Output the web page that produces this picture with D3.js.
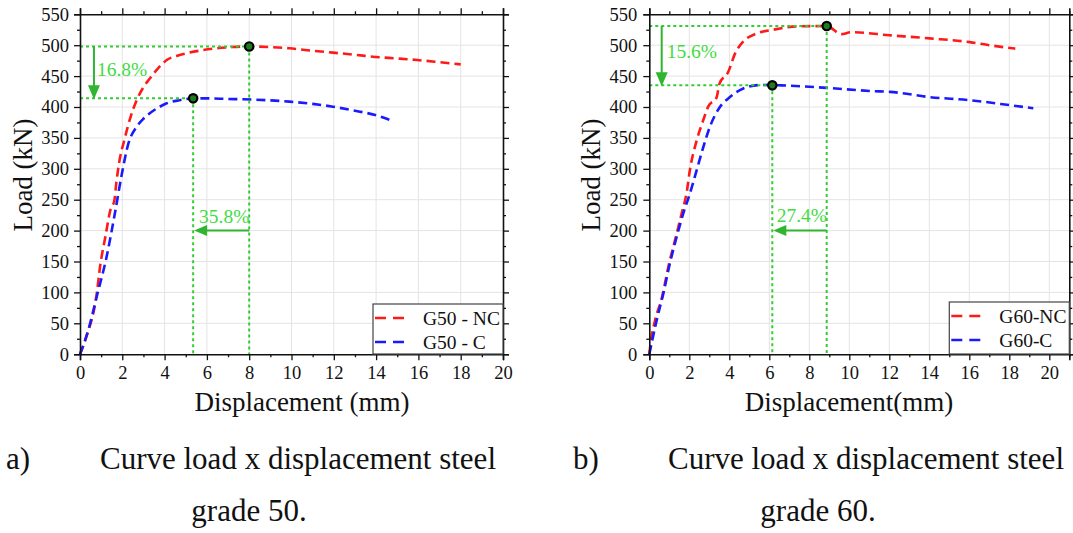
<!DOCTYPE html>
<html><head><meta charset="utf-8">
<script src="https://cdn.jsdelivr.net/npm/d3@7"></script>
<style>
body{margin:0;background:#fff}
text{font-family:"Liberation Serif","Times New Roman",serif;fill:#111}
</style>
</head><body>
<svg id="c" width="1073" height="533"></svg>
<script>
// ---------- data ----------
const xTicks = [0, 2, 4, 6, 8, 10, 12, 14, 16, 18, 20];
const yTicks = [0, 50, 100, 150, 200, 250, 300, 350, 400, 450, 500, 550];

const G50_NC = [[0,0],[0.3,28],[0.8,100],[0.95,142],[1.2,190],[1.45,235],[1.62,248],[1.72,278],[1.85,310],[2.1,347],[2.4,385],[2.68,411],[3.0,432],[3.3,446],[3.7,463],[4.1,476],[4.6,483],[5.04,487],[5.8,492],[6.46,495],[7.2,497],[8.0,498],[9.0,497],[9.9,495],[11,491],[11.96,488],[13,484.5],[13.96,481],[15,478.5],[15.94,476],[17,472.5],[18,469]];
const G50_C = [[0,0],[0.4,40],[0.79,93],[1.26,158],[1.65,228],[1.97,290],[2.28,340],[2.68,368],[3.0,381],[3.3,390],[3.7,399],[4.1,406],[4.7,411],[5.35,414],[6.0,414],[7.0,413],[7.7,412.5],[8.8,411],[9.9,408.7],[11,405],[11.96,400.5],[13,394],[13.96,387],[14.8,377]];
const G60_NC = [[0,0],[0.05,14],[0.29,55],[0.62,90],[0.95,141],[1.37,195],[1.62,228],[1.87,262],[2.03,298],[2.37,346],[2.7,379],[2.95,401],[3.37,416],[3.5,437],[3.95,457],[4.28,486],[4.7,506],[5.37,519],[6.2,525],[7.37,530.5],[8.87,531],[9.6,518],[10.1,521],[12.03,516],[14.03,511],[16.03,505],[17.0,500],[18.3,494.5]];
const G60_C = [[0,0],[0.37,55],[0.7,98],[1.03,147],[1.37,190],[1.7,228],[2.03,260],[2.37,298],[2.7,335],[3.03,368],[3.53,400],[4.03,416],[4.7,430],[5.53,435.5],[6.15,435.5],[6.6,435],[8.87,431],[11.2,425.6],[12.03,424.5],[14.03,416],[16.03,411],[18.03,403],[19.2,398]];

const peaks50 = [[8.0,498],[5.35,414]];
const peaks60 = [[8.87,531],[6.15,435]];
const pct50 = ["16.8%", "35.8%"];
const pct60 = ["15.6%", "27.4%"];
const legend50 = ["G50 - NC", "G50 - C"];
const legend60 = ["G60-NC", "G60-C"];
const xLabels = ["Displacement (mm)", "Displacement(mm)"];
const yLabel = "Load (kN)";
const captions = [
  {tag:"a)", line1:"Curve load x displacement steel", line2:"grade 50."},
  {tag:"b)", line1:"Curve load x displacement steel", line2:"grade 60."}
];

// ---------- layout ----------
const FONT = '"Liberation Serif","Times New Roman",serif';
const svg = d3.select("#c");
svg.append("rect").attr("width",1073).attr("height",533).attr("fill","#fff");

const panels = [
  {px0:80, px1:503, xMax:20, series:[G50_NC,G50_C], peaks:peaks50, pct:pct50, legend:legend50,
   xLabel:xLabels[0], xLabelX:302, yLabelX:23, arrowX:0.66, pctPos:[[0.8,450],[5.63,212]],
   leg:{x:373, y:304, w:130, h:50}, yPad:5},
  {px0:649.3, px1:1069.3, xMax:21, series:[G60_NC,G60_C], peaks:peaks60, pct:pct60, legend:legend60,
   xLabel:xLabels[1], xLabelX:849, yLabelX:591, arrowX:0.62, pctPos:[[0.87,479],[6.37,214]],
   leg:{x:949.3, y:302, w:120, h:52}, yPad:6}
];
const yTop = 14.3, yBot = 354.2;
const colors = ["#ff1a1a", "#1a1aff"];
const green = "#33cc33", greenArrow = "#2fb52f", greenText = "#3fdc3f";

panels.forEach(p => {
  const x = d3.scaleLinear().domain([0, p.xMax]).range([p.px0, p.px1]);
  const y = d3.scaleLinear().domain([0, 550]).range([yBot, yTop]);
  const g = svg.append("g");

  // grid
  g.selectAll(".gx").data(xTicks.filter(t => t > 0 && t < p.xMax)).enter().append("line")
    .attr("x1", d => x(d)).attr("x2", d => x(d)).attr("y1", yTop).attr("y2", yBot)
    .attr("stroke", "#e4e4e4").attr("stroke-width", 1);
  g.selectAll(".gy").data(yTicks.filter(t => t > 0 && t < 550)).enter().append("line")
    .attr("y1", d => y(d)).attr("y2", d => y(d)).attr("x1", p.px0).attr("x2", p.px1)
    .attr("stroke", "#e4e4e4").attr("stroke-width", 1);

  // curves
  const line = d3.line().x(d => x(d[0])).y(d => y(d[1])).curve(d3.curveMonotoneX);
  p.series.forEach((s, i) => {
    g.append("path").attr("d", line(s)).attr("fill", "none")
      .attr("stroke", colors[i]).attr("stroke-width", 2.6).attr("stroke-dasharray", "9,5");
  });

  // dotted guide lines
  p.peaks.forEach(pk => {
    g.append("line").attr("x1", x(0)).attr("x2", x(pk[0])).attr("y1", y(pk[1])).attr("y2", y(pk[1]))
      .attr("stroke", green).attr("stroke-width", 2).attr("stroke-dasharray", "3,3");
    g.append("line").attr("x1", x(pk[0])).attr("x2", x(pk[0])).attr("y1", y(pk[1])).attr("y2", y(0))
      .attr("stroke", green).attr("stroke-width", 2).attr("stroke-dasharray", "3,3");
  });

  // vertical arrow (load reduction)
  const ax = x(p.arrowX), ay1 = y(p.peaks[0][1]), ay2 = y(p.peaks[1][1]);
  g.append("line").attr("x1", ax).attr("x2", ax).attr("y1", ay1).attr("y2", ay2 - 10)
    .attr("stroke", greenArrow).attr("stroke-width", 2);
  g.append("path").attr("d", `M${ax-6},${ay2-13}L${ax+6},${ay2-13}L${ax},${ay2+1}Z`).attr("fill", greenArrow);
  // horizontal arrow (displacement reduction)
  const hy = y(200), hx1 = x(p.peaks[0][0]), hx2 = x(p.peaks[1][0]);
  g.append("line").attr("x1", hx1).attr("x2", hx2 + 10).attr("y1", hy).attr("y2", hy)
    .attr("stroke", greenArrow).attr("stroke-width", 2);
  g.append("path").attr("d", `M${hx2+14},${hy-5.5}L${hx2+14},${hy+5.5}L${hx2+1},${hy}Z`).attr("fill", greenArrow);

  p.pct.forEach((t, i) => {
    g.append("text").attr("x", x(p.pctPos[i][0])).attr("y", y(p.pctPos[i][1]))
      .attr("font-size", 19.5).style("fill", greenText).text(t);
  });

  // peak markers
  p.peaks.forEach(pk => {
    g.append("circle").attr("cx", x(pk[0])).attr("cy", y(pk[1])).attr("r", 4.2)
      .attr("fill", "#1e7a1e").attr("stroke", "#000").attr("stroke-width", 2.2);
  });

  // axes
  const xMinor = d3.range(1, p.xMax + 0.01, 2);
  const yMinor = d3.range(25, 550, 50);
  const axB = d3.axisBottom(x).tickValues(xTicks).tickSize(6).tickPadding(6).tickFormat(d3.format("d"));
  const axT = d3.axisTop(x).tickValues(xTicks).tickSize(6).tickFormat("");
  const axL = d3.axisLeft(y).tickValues(yTicks).tickSize(6).tickPadding(p.yPad).tickFormat(d3.format("d"));
  const axR = d3.axisRight(y).tickValues(yTicks).tickSize(6).tickFormat("");
  const style = sel => {
    sel.attr("font-family", null);
    sel.selectAll("path").attr("stroke", "#111").attr("stroke-width", 1.6);
    sel.selectAll("line").attr("stroke", "#111").attr("stroke-width", 1.3);
    sel.selectAll("text").attr("font-size", 18.5).style("fill", "#111");
  };
  g.append("g").attr("transform", `translate(0,${yBot})`).call(axB).call(style);
  g.append("g").attr("transform", `translate(0,${yTop})`).call(axT).call(style);
  g.append("g").attr("transform", `translate(${p.px0},0)`).call(axL).call(style);
  g.append("g").attr("transform", `translate(${p.px1},0)`).call(axR).call(style);
  // minor ticks
  g.append("g").attr("transform", `translate(0,${yBot})`).call(d3.axisBottom(x).tickValues(xMinor).tickSize(3).tickFormat("")).call(style).select(".domain").remove();
  g.append("g").attr("transform", `translate(0,${yTop})`).call(d3.axisTop(x).tickValues(xMinor).tickSize(3).tickFormat("")).call(style).select(".domain").remove();
  g.append("g").attr("transform", `translate(${p.px0},0)`).call(d3.axisLeft(y).tickValues(yMinor).tickSize(3).tickFormat("")).call(style).select(".domain").remove();
  g.append("g").attr("transform", `translate(${p.px1},0)`).call(d3.axisRight(y).tickValues(yMinor).tickSize(3).tickFormat("")).call(style).select(".domain").remove();

  // axis labels
  g.append("text").attr("x", p.xLabelX).attr("y", 411).attr("text-anchor", "middle")
    .attr("font-size", 27).text(p.xLabel);
  g.append("text").attr("transform", `translate(${p.yLabelX},175) rotate(-90)`)
    .attr("text-anchor", "middle").attr("dy", "0.35em").attr("font-size", 27).text(yLabel);

  // legend
  const L = p.leg;
  g.append("rect").attr("x", L.x).attr("y", L.y).attr("width", L.w).attr("height", L.h)
    .attr("fill", "#fff").attr("stroke", "#444").attr("stroke-width", 1.2);
  p.legend.forEach((t, i) => {
    const ly = L.y + 14 + i * 24;
    g.append("line").attr("x1", L.x + 2).attr("x2", L.x + 31).attr("y1", ly).attr("y2", ly)
      .attr("stroke", colors[i]).attr("stroke-width", 2.6).attr("stroke-dasharray", "11,7");
    g.append("text").attr("x", L.x + 50).attr("y", ly).attr("dy", "0.35em")
      .attr("font-size", 19.5).text(t);
  });
});

// captions
const capPos = [{tagX:6, x:100, c2:249}, {tagX:573, x:668, c2:818}];
captions.forEach((c, i) => {
  const cp = capPos[i];
  svg.append("text").attr("x", cp.tagX).attr("y", 469).attr("font-size", 31).text(c.tag);
  svg.append("text").attr("x", cp.x).attr("y", 469).attr("font-size", 31).text(c.line1);
  svg.append("text").attr("x", cp.c2).attr("y", 521).attr("text-anchor", "middle").attr("font-size", 31).text(c.line2);
});

svg.selectAll("text").style("font-family", FONT);
</script>
</body></html>
